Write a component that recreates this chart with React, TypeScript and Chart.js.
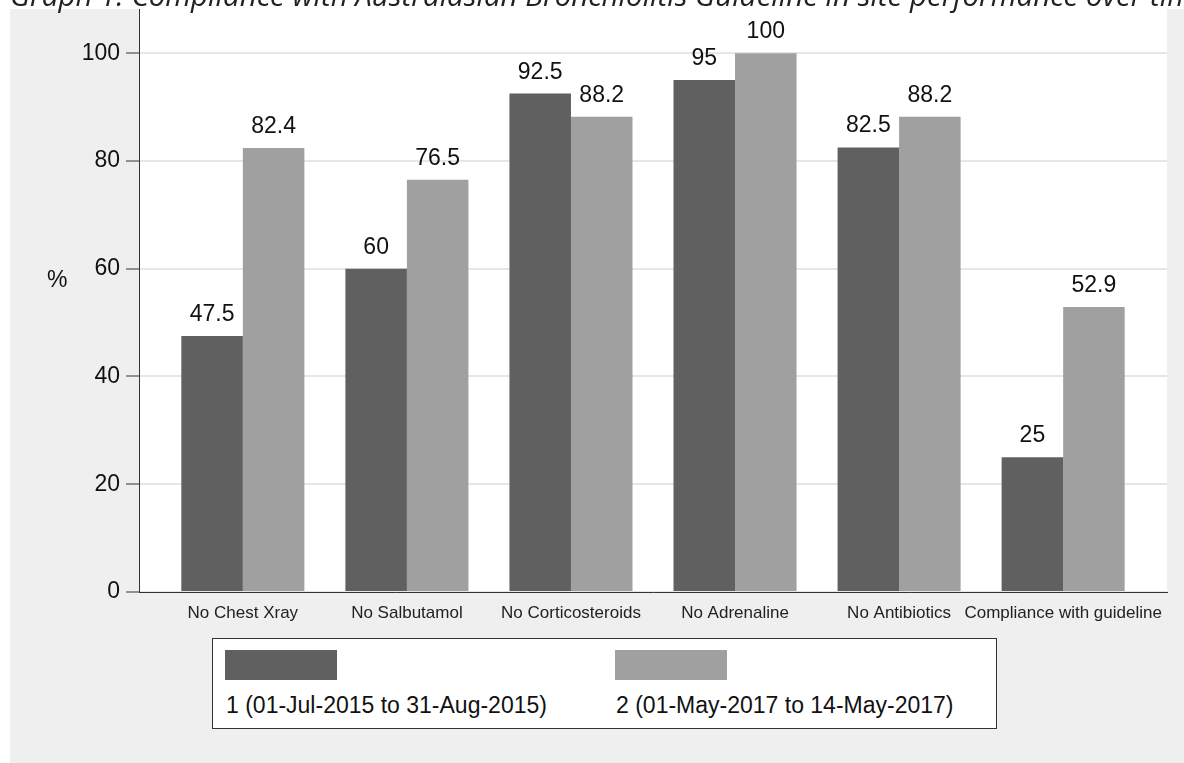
import React, { useEffect, useRef } from "react";
import { Chart, registerables } from "chart.js";

Chart.register(...registerables);

const categories = [
  "No Chest Xray",
  "No Salbutamol",
  "No Corticosteroids",
  "No Adrenaline",
  "No Antibiotics",
  "Compliance with guideline",
];
const period1 = [47.5, 60, 92.5, 95, 82.5, 25];
const period2 = [82.4, 76.5, 88.2, 100, 88.2, 52.9];
const seriesLabels = ["1 (01-Jul-2015 to 31-Aug-2015)", "2 (01-May-2017 to 14-May-2017)"];
const seriesColors = ["#606060", "#a0a0a0"];
const yTicks = [0, 20, 40, 60, 80, 100];
const titleText =
  "Graph 1: Compliance with Australasian Bronchiolitis Guideline in site performance over time";

const FONT = '"Liberation Sans", Arial, sans-serif';

export default function App() {
  const ref = useRef<HTMLCanvasElement | null>(null);

  useEffect(() => {
    const canvas = ref.current;
    if (!canvas) return;

    const bgPlugin = {
      id: "bgPanel",
      beforeDraw(chart: any) {
        const { ctx, chartArea: a } = chart;
        ctx.save();
        ctx.fillStyle = "#ffffff";
        ctx.fillRect(0, 0, chart.width, chart.height);
        ctx.fillStyle = "#efefef";
        ctx.fillRect(10, 9, chart.width - 10, chart.height - 9);
        ctx.fillStyle = "#ffffff";
        ctx.fillRect(a.left, a.top, a.right - a.left, a.bottom - a.top);
        ctx.restore();
      },
    };

    const valuePlugin = {
      id: "valueLabels",
      afterDatasetsDraw(chart: any) {
        const { ctx } = chart;
        ctx.save();
        ctx.font = `23px ${FONT}`;
        ctx.fillStyle = "#111111";
        ctx.textAlign = "center";
        ctx.textBaseline = "alphabetic";
        chart.data.datasets.forEach((ds: any, di: number) => {
          const meta = chart.getDatasetMeta(di);
          meta.data.forEach((el: any, i: number) => {
            const v = ds.data[i].y;
            ctx.fillText(String(v), el.x, el.y - 15);
          });
        });
        ctx.restore();
      },
    };

    const chart = new Chart(canvas, {
      type: "bar",
      data: {
        datasets: [period1, period2].map((vals, di) => ({
          label: seriesLabels[di],
          data: vals.map((v, i) => ({ x: i, y: v })),
          backgroundColor: seriesColors[di],
          borderWidth: 0,
          categoryPercentage: 0.75,
          barPercentage: 1,
        })),
      },
      options: {
        responsive: false,
        animation: false,
        devicePixelRatio: 1,
        layout: { padding: { left: 59, right: 17, top: 9, bottom: 131 } },
        plugins: {
          legend: { display: false },
          tooltip: { enabled: false },
          title: { display: false },
        },
        scales: {
          x: {
            type: "linear",
            min: -0.633,
            max: 5.633,
            offset: false,
            afterBuildTicks: (s: any) => {
              s.ticks = categories.map((_, i) => ({ value: i }));
            },
            afterFit: (s: any) => {
              s.height = 40;
              s.paddingLeft = 0;
              s.paddingRight = 0;
            },
            grid: { display: false, drawTicks: false },
            border: { display: true, color: "#333333", width: 1 },
            ticks: {
              autoSkip: false,
              maxRotation: 0,
              minRotation: 0,
              padding: 11,
              color: "#222222",
              font: { family: FONT, size: 17 },
              callback: (v: any) => categories[v] ?? "",
            },
          },
          y: {
            type: "linear",
            min: 0,
            max: 108.2,
            afterBuildTicks: (s: any) => {
              s.ticks = yTicks.map((v) => ({ value: v }));
            },
            afterFit: (s: any) => {
              s.width = 80;
              s.paddingTop = 0;
              s.paddingBottom = 0;
            },
            grid: {
              color: "#e6e6e6",
              lineWidth: 2,
              drawTicks: true,
              tickLength: 13,
              tickColor: "#333333",
              tickWidth: 1,
            },
            border: { display: true, color: "#333333", width: 1 },
            ticks: {
              padding: 6,
              color: "#111111",
              font: { family: FONT, size: 23 },
              callback: (v: any) => String(v),
            },
          },
        },
      },
      plugins: [bgPlugin, valuePlugin],
    } as any);

    return () => chart.destroy();
  }, []);

  return (
    <div
      style={{
        position: "fixed",
        left: 0,
        top: 0,
        width: 1184,
        height: 763,
        overflow: "hidden",
        background: "#ffffff",
      }}
    >
      <canvas ref={ref} width={1184} height={763} style={{ display: "block", width: 1184, height: 763 }} />
      <div
        style={{
          position: "absolute",
          left: 10,
          top: -20,
          whiteSpace: "nowrap",
          fontFamily: '"Open Sans", sans-serif',
          fontStyle: "italic",
          fontSize: 29.5,
          lineHeight: "29.5px",
          color: "#222222",
        }}
      >
        {titleText}
      </div>
      <div
        style={{
          position: "absolute",
          left: 47,
          top: 266,
          fontFamily: FONT,
          fontSize: 23,
          lineHeight: "26px",
          color: "#111111",
        }}
      >
        %
      </div>
      <div
        style={{
          position: "absolute",
          left: 212,
          top: 638,
          width: 785,
          height: 91,
          boxSizing: "border-box",
          border: "1px solid #333333",
          background: "#ffffff",
          fontFamily: FONT,
          fontSize: 23,
          color: "#111111",
        }}
      >
        {seriesLabels.map((lab, i) => {
          const left = i === 0 ? 12 : 402;
          return (
            <React.Fragment key={lab}>
              <div
                style={{
                  position: "absolute",
                  left,
                  top: 11,
                  width: 112,
                  height: 30,
                  background: seriesColors[i],
                }}
              />
              <div
                style={{
                  position: "absolute",
                  left: left + 1,
                  top: 53,
                  lineHeight: "27px",
                  whiteSpace: "nowrap",
                }}
              >
                {lab}
              </div>
            </React.Fragment>
          );
        })}
      </div>
    </div>
  );
}
